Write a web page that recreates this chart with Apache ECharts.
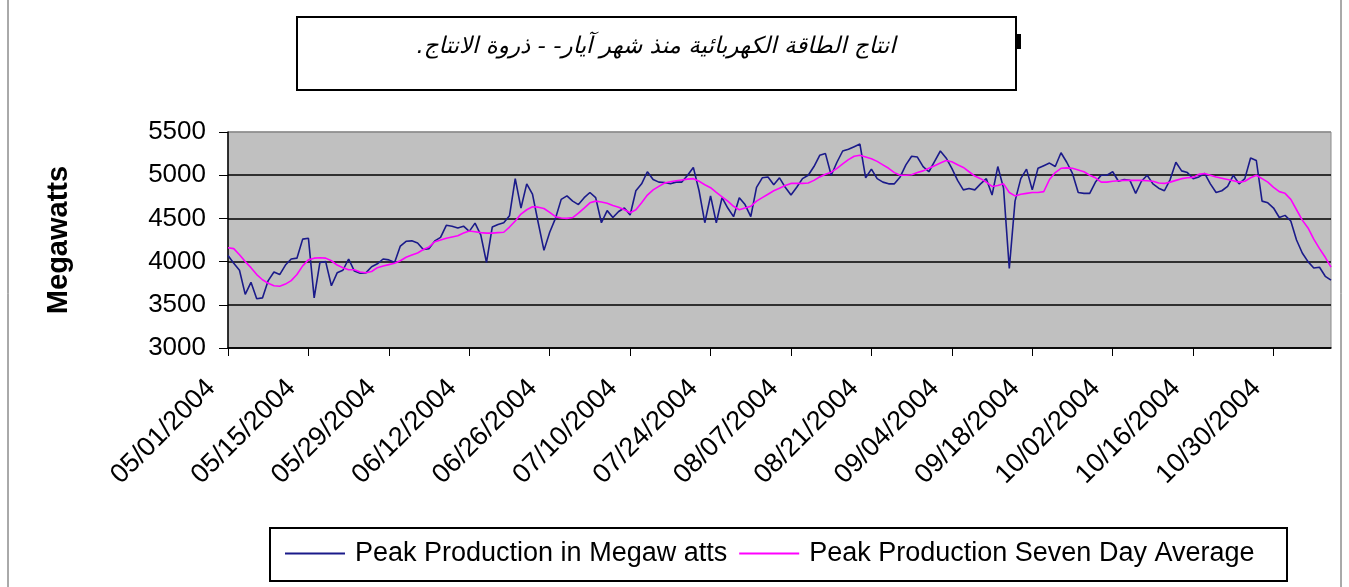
<!DOCTYPE html>
<html>
<head>
<meta charset="utf-8">
<script src="https://cdn.jsdelivr.net/npm/echarts@6/dist/echarts.min.js"></script>
<style>
  html, body { margin: 0; padding: 0; background: #fff; }
  #chart { width: 1349px; height: 587px; }
</style>
</head>
<body>
<div id="chart"></div>
<script>
const startDate = Date.UTC(2004, 4, 1)
const dayCount = 193

const peakValues = [
  4070, 3980, 3900, 3620, 3760, 3570, 3580, 3780, 3880, 3850, 3960, 4030, 4040, 4260, 4270, 3580, 3990, 4000, 3720, 3870, 3900, 4030,
  3890, 3865, 3870, 3940, 3975, 4030, 4020, 3990, 4180, 4235, 4240, 4215, 4140, 4150, 4240, 4280, 4420, 4410, 4390, 4410, 4350,
  4445, 4310, 3990, 4400, 4430, 4450, 4530, 4960, 4620, 4900, 4780, 4450, 4130, 4340, 4500, 4720, 4760, 4700, 4660, 4740, 4800,
  4740, 4450, 4590, 4510, 4580, 4620, 4540, 4820, 4900, 5040, 4950, 4920, 4915, 4900, 4920, 4920, 5000, 5090, 4820, 4450, 4760,
  4450, 4740, 4620, 4520, 4740, 4660, 4520, 4860, 4970, 4980, 4890, 4970, 4860, 4770, 4860, 4960, 5000, 5100, 5230, 5250, 5000,
  5150, 5280, 5300, 5330, 5360, 4970, 5070, 4960, 4920, 4900, 4900, 4980, 5120, 5220, 5210, 5100, 5040, 5160, 5280, 5200, 5080,
  4940, 4830, 4845, 4830, 4900, 4960, 4770, 5100, 4850, 3920, 4700, 4960, 5070, 4830, 5080, 5110, 5140, 5100, 5260, 5150, 5020,
  4800, 4790, 4790, 4920, 5000, 5000, 5040, 4930, 4950, 4940, 4790, 4930, 5000, 4900, 4850, 4820, 4950, 5150, 5050, 5030, 4960,
  4980, 5020, 4900, 4800, 4820, 4870, 5000, 4900, 4960, 5200, 5170, 4700, 4680, 4620, 4510, 4535, 4470, 4250, 4100, 4000, 3925, 3935, 3830, 3785
]

const averageValues = [
  4160, 4150, 4080, 4000, 3930, 3850, 3790, 3750, 3720, 3715, 3740, 3780, 3850, 3950, 4020, 4040, 4045, 4040, 4010, 3960, 3930, 3905,
  3905, 3880, 3870, 3885, 3930, 3950, 3965, 3980, 4010, 4050, 4075, 4100, 4140, 4170, 4230, 4250, 4270, 4285, 4300, 4330, 4355,
  4345, 4335, 4330, 4330, 4335, 4340, 4400, 4470, 4550, 4600, 4635, 4630, 4615, 4570, 4520, 4505, 4500, 4510, 4560, 4620, 4680,
  4700, 4690, 4675, 4650, 4630, 4600, 4565, 4600, 4680, 4770, 4830, 4870, 4910, 4925, 4935, 4945, 4955, 4960, 4930, 4890, 4855,
  4800, 4750, 4700, 4640, 4600, 4620, 4640, 4700, 4740, 4780, 4820, 4850, 4880, 4905, 4905, 4905, 4910, 4940, 4980, 5010, 5035,
  5080, 5130, 5180, 5220, 5230, 5210, 5190, 5160, 5120, 5080, 5030, 5000, 5000, 5005, 5030, 5050, 5080, 5110, 5140, 5170, 5155,
  5120, 5090, 5040, 4990, 4960, 4920, 4870, 4880, 4900, 4800, 4760, 4780, 4790, 4800, 4800, 4810, 4950, 5030, 5080, 5085, 5080,
  5060, 5040, 5000, 4970, 4920, 4920, 4930, 4935, 4940, 4940, 4940, 4940, 4935, 4930, 4910, 4905, 4920, 4940, 4960, 4970, 4975,
  5010, 5020, 5000, 4980, 4965, 4950, 4935, 4920, 4930, 4970, 5000, 4960, 4920, 4860, 4810, 4790, 4720, 4600, 4480, 4390, 4260, 4150, 4050, 3935
]

const seriesNames = ['Peak Production in Megaw atts', 'Peak Production Seven Day Average']
// RLM at the end keeps the full stop on the left of the Arabic run
const titleText = 'انتاج الطاقة الكهربائية منذ شهر آيار- - ذروة الانتاج.\u200F'

// one label per day, MM/DD/YYYY
const pad = n => String(n).padStart(2, '0')
const days = []
for (let i = 0; i < dayCount; i++) {
  const d = new Date(startDate + i * 86400000)
  days.push(pad(d.getUTCMonth() + 1) + '/' + pad(d.getUTCDate()) + '/' + d.getUTCFullYear())
}

const chart = echarts.init(document.getElementById('chart'))

const option = {
  animation: false,
  backgroundColor: '#fff',
  textStyle: { fontFamily: 'Liberation Sans' },
  grid: {
    left: 228,
    right: 18,
    top: 132,
    bottom: 239,
    show: true,
    backgroundColor: '#c0c0c0',
    borderColor: '#8c8c8c',
    borderWidth: 1
  },
  legend: {
    left: 280,
    top: 535,
    icon: 'rect',
    itemWidth: 60,
    itemHeight: 2,
    itemGap: 12,
    textStyle: { fontSize: 27, color: '#000', fontFamily: 'Liberation Sans', padding: [0, 0, 0, 5] },
    data: seriesNames
  },
  xAxis: {
    type: 'category',
    data: days,
    boundaryGap: false,
    axisLine: { lineStyle: { color: '#000', width: 1.5 } },
    axisTick: { interval: 13, length: 8, lineStyle: { color: '#000' } },
    axisLabel: {
      interval: 13,
      rotate: 45,
      margin: 19,
      padding: [0, 24, 0, 0],
      fontSize: 27,
      color: '#000'
    },
    splitLine: { show: false }
  },
  yAxis: {
    type: 'value',
    min: 3000,
    max: 5500,
    interval: 500,
    name: 'Megawatts',
    nameLocation: 'middle',
    nameRotate: 90,
    nameGap: 155,
    nameTextStyle: { fontSize: 29, fontWeight: 'bold', color: '#000' },
    axisLine: { show: true, lineStyle: { color: '#000', width: 1.5 } },
    axisTick: { show: true, length: 9, lineStyle: { color: '#000' } },
    axisLabel: { fontSize: 26, color: '#000', margin: 22, formatter: v => String(v) },
    splitLine: {
      show: true,
      lineStyle: { color: ['#000', '#000', '#000', '#000', '#000', '#8c8c8c'], width: 1.5 }
    }
  },
  series: [
    {
      name: seriesNames[0],
      type: 'line',
      data: peakValues,
      symbol: 'none',
      lineStyle: { color: '#1a1a8a', width: 1.6 },
      itemStyle: { color: '#1a1a8a' },
      z: 3
    },
    {
      name: seriesNames[1],
      type: 'line',
      data: averageValues,
      symbol: 'none',
      lineStyle: { color: '#ff00ff', width: 1.6 },
      itemStyle: { color: '#ff00ff' },
      z: 4
    }
  ],
  graphic: [
    {
      type: 'rect',
      shape: { x: 8, y: -10, width: 1333, height: 620 },
      style: { fill: 'none', stroke: '#555', lineWidth: 1 },
      silent: true
    },
    {
      type: 'rect',
      shape: { x: 1015, y: 34, width: 6, height: 15 },
      style: { fill: '#000' },
      z: 9
    },
    {
      type: 'rect',
      shape: { x: 297, y: 17, width: 719, height: 73 },
      style: { fill: '#fff', stroke: '#000', lineWidth: 2 },
      z: 10
    },
    {
      type: 'text',
      x: 656,
      y: 47,
      style: {
        text: titleText,
        fill: '#000',
        font: 'italic 23px "DejaVu Sans"',
        align: 'center',
        verticalAlign: 'middle'
      },
      z: 11
    },
    {
      type: 'rect',
      shape: { x: 270, y: 528, width: 1017, height: 53 },
      style: { fill: 'none', stroke: '#000', lineWidth: 2 },
      z: 10
    }
  ]
}

chart.setOption(option)
window.addEventListener('resize', () => chart.resize())
</script>
</body>
</html>
